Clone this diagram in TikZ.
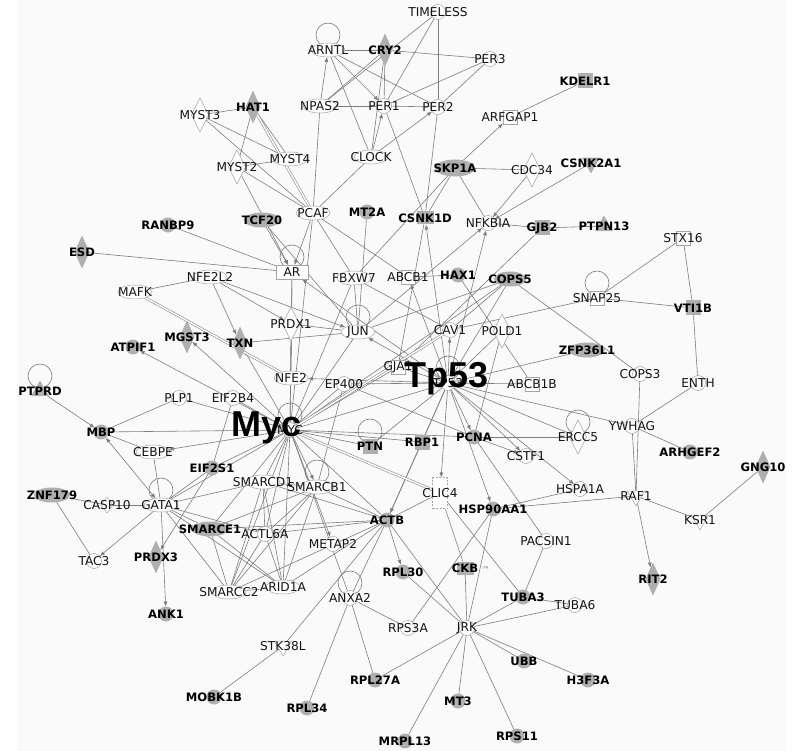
\documentclass[tikz,border=0pt]{standalone}
\usepackage{fontspec}
\setmainfont{DejaVu Sans}
\newfontfamily\bigfont{Liberation Sans}
\usetikzlibrary{shapes.geometric,arrows.meta}
\pgfdeclarelayer{back}
\pgfdeclarelayer{bg}
\pgfsetlayers{back,bg,main}
\definecolor{shade}{RGB}{175,175,175}
\definecolor{bord}{RGB}{165,165,165}
\definecolor{edgec}{RGB}{125,125,125}
\definecolor{panel}{RGB}{250,250,250}
\definecolor{txt}{RGB}{20,20,20}
\tikzset{
  base/.style={inner sep=0pt, outer sep=0pt},
  gf/.style={base, fill=shade, draw=none},
  wf/.style={base, fill=white, draw=bord, line width=0.5pt},
  gcirc/.style={gf, circle, minimum size=15pt},
  wcirc/.style={wf, circle, minimum size=15pt},
  gell/.style={gf, ellipse, minimum width=36pt, minimum height=15pt},
  well/.style={wf, ellipse, minimum width=34pt, minimum height=14pt},
  gdia/.style={gf, diamond, minimum width=15pt, minimum height=33pt},
  wdia/.style={wf, diamond, minimum width=17pt, minimum height=34pt},
  wdiasm/.style={wf, diamond, minimum width=12pt, minimum height=16pt},
  gsq/.style={gf, rectangle, minimum size=15pt},
  wsq/.style={wf, rectangle, minimum size=14pt},
  wrect/.style={wf, rectangle, minimum width=32pt, minimum height=14pt},
  wdash/.style={wf, rectangle, dash pattern=on 2pt off 1.5pt, minimum width=15pt, minimum height=31pt},
  gtriup/.style={gf, regular polygon, regular polygon sides=3, minimum size=21pt},
  gtridn/.style={gf, regular polygon, regular polygon sides=3, minimum size=21pt, shape border rotate=180},
  wtridn/.style={wf, regular polygon, regular polygon sides=3, minimum size=20pt, shape border rotate=180},
  gtrap/.style={gf, rectangle, minimum width=17pt, minimum height=13pt},
  lab/.style={font=\fontsize{12.2}{12}\selectfont, text=txt, inner sep=0pt},
  blab/.style={font=\fontsize{11.6}{12}\selectfont\bfseries, text=black, inner sep=0pt},
  ed/.style={draw=edgec, line width=0.6pt},
  ar/.style={ed, -{Latex[length=5pt,width=4pt]}},
  biar/.style={ed, {Latex[length=5pt,width=4pt]}-{Latex[length=5pt,width=4pt]}},
  dbl/.style={draw=edgec, double=panel, double distance=1.6pt, line width=0.5pt},
  biglab/.style={font=\bigfont\fontsize{36}{36}\selectfont\bfseries, text=black, inner sep=0pt, anchor=base},
}
\newcommand{\mkG}[4]{\node[#1,label={[blab]center:#4}] (#2) at (#3) {};}
\newcommand{\mkW}[4]{\node[#1,label={[lab]center:#4}] (#2) at (#3) {};}
\newcommand{\mkLoop}[1]{\draw[ed] ([yshift=15pt]#1.center) circle[radius=12pt];}
\begin{document}
\begin{tikzpicture}[x=1pt,y=-1pt]
\useasboundingbox (0,0) rectangle (793,751);
\begin{pgfonlayer}{back}
\fill[white] (0,0) rectangle (793,751);
\fill[panel] (17,0) rectangle (786,751);
\end{pgfonlayer}
% ---------- nodes ----------
\mkW{wcirc}{TIMELESS}{438,12}{TIMELESS}
\mkW{well}{ARNTL}{328,50}{ARNTL}
\mkG{gdia}{CRY2}{385,50}{CRY2}
\mkW{wcirc}{PER3}{490,59}{PER3}
\mkW{well}{NPAS2}{320,106}{NPAS2}
\mkW{wcirc}{PER1}{384,106}{PER1}
\mkW{wcirc}{PER2}{438,107}{PER2}
\mkW{wdia}{MYST3}{200,115}{MYST3}
\mkG{gdia}{HAT1}{253,107}{HAT1}
\mkW{well}{MYST4}{290,159}{MYST4}
\mkW{wdia}{MYST2}{237,167}{MYST2}
\mkW{well}{CLOCK}{371,157}{CLOCK}
\mkG{gsq}{KDELR1}{585,81}{KDELR1}
\mkW{wsq}{ARFGAP1}{510,117}{ARFGAP1}
\mkG{gell,minimum width=40pt,minimum height=17pt}{SKP1A}{455,168}{SKP1A}
\mkW{wdia}{CDC34}{532,170}{CDC34}
\mkG{gtridn}{CSNK2A1}{591,163}{CSNK2A1}
\mkW{well}{PCAF}{313,213}{PCAF}
\mkG{gcirc}{MT2A}{367,212}{MT2A}
\mkG{gell}{TCF20}{262,220}{TCF20}
\mkG{gcirc}{RANBP9}{168,225}{RANBP9}
\mkG{gtrap}{CSNK1D}{425,218}{CSNK1D}
\mkW{wcirc}{NFKBIA}{488,223}{NFKBIA}
\mkG{gsq}{GJB2}{542,228}{GJB2}
\mkG{gtriup}{PTPN13}{604,226}{PTPN13}
\mkW{wsq}{STX16}{683,238}{STX16}
\mkG{gdia}{ESD}{82,252}{ESD}
\mkW{well}{NFE2L2}{210,277}{NFE2L2}
\mkW{wrect}{AR}{292,272}{AR}
\mkW{well}{FBXW7}{354,278}{FBXW7}
\mkW{wsq}{ABCB1}{408,277}{ABCB1}
\mkG{gcirc}{HAX1}{458,275}{HAX1}
\mkG{gell,minimum width=32pt}{COPS5}{510,279}{COPS5}
\mkW{wsq}{SNAP25}{597,298}{SNAP25}
\mkG{gsq}{VTI1B}{693,308}{VTI1B}
\mkW{well}{MAFK}{135,292}{MAFK}
\mkW{wdia}{PRDX1}{291,324}{PRDX1}
\mkW{well}{JUN}{358,332}{JUN}
\mkW{wcirc}{CAV1}{450,330}{CAV1}
\mkW{wdia}{POLD1}{502,331}{POLD1}
\mkG{gdia}{MGST3}{187,337}{MGST3}
\mkG{gdia}{TXN}{240,343}{TXN}
\mkG{gcirc}{ATPIF1}{133,347}{ATPIF1}
\mkG{gell}{ZFP36L1}{587,350}{ZFP36L1}
\mkW{well}{NFE2}{291,378}{NFE2}
\mkW{wcirc}{EP400}{344,384}{EP400}
\mkW{wsq}{GJA1}{398,367}{GJA1}
\mkW{wcirc}{TP53}{448,383}{TP53}
\mkW{wsq}{ABCB1B}{532,384}{ABCB1B}
\mkW{wcirc}{COPS3}{640,374}{COPS3}
\mkW{wcirc}{ENTH}{698,383}{ENTH}
\mkG{gtriup}{PTPRD}{40,391}{PTPRD}
\mkW{wcirc}{PLP1}{179,398}{PLP1}
\mkW{wcirc}{EIF2B4}{233,398}{EIF2B4}
\mkG{gcirc}{MBP}{101,432}{MBP}
\mkW{wcirc}{MYC}{290,430}{MYC}
\mkW{well}{CEBPE}{153,452}{CEBPE}
\mkG{gsq}{PTN}{370,446}{PTN}
\mkG{gsq}{RBP1}{422,442}{RBP1}
\mkG{gcirc}{PCNA}{474,437}{PCNA}
\mkW{wdia}{ERCC5}{578,437}{ERCC5}
\mkW{wcirc}{CSTF1}{526,456}{CSTF1}
\mkW{wcirc}{YWHAG}{632,426}{YWHAG}
\mkG{gcirc}{ARHGEF2}{690,452}{ARHGEF2}
\mkG{gdia}{GNG10}{763,467}{GNG10}
\mkG{gcirc}{EIF2S1}{212,468}{EIF2S1}
\mkW{well}{SMARCD1}{263,482}{SMARCD1}
\mkW{well}{SMARCB1}{317,487}{SMARCB1}
\mkG{gell}{ZNF179}{52,495}{ZNF179}
\mkW{wdiasm}{CASP10}{107,505}{CASP10}
\mkW{well}{GATA1}{161,505}{GATA1}
\mkW{wdash}{CLIC4}{440,493}{CLIC4}
\mkW{wcirc}{HSPA1A}{580,489}{HSPA1A}
\mkG{gcirc}{ACTB}{387,520}{ACTB}
\mkG{gcirc}{HSP90AA1}{493,509}{HSP90AA1}
\mkW{wtridn}{RAF1}{636,496}{RAF1}
\mkW{wtridn}{KSR1}{700,520}{KSR1}
\mkG{gell}{SMARCE1}{210,529}{SMARCE1}
\mkW{wcirc}{ACTL6A}{265,534}{ACTL6A}
\mkW{wcirc}{METAP2}{333,544}{METAP2}
\mkW{wcirc}{PACSIN1}{546,541}{PACSIN1}
\mkW{wcirc}{TAC3}{94,561}{TAC3}
\mkG{gdia}{PRDX3}{156,557}{PRDX3}
\mkW{well}{SMARCC2}{229,592}{SMARCC2}
\mkW{well}{ARID1A}{283,587}{ARID1A}
\mkW{wcirc}{ANXA2}{350,598}{ANXA2}
\mkG{gcirc}{RPL30}{403,572}{RPL30}
\mkG{gtrap}{CKB}{465,568}{CKB}
\mkG{gcirc}{TUBA3}{523,597}{TUBA3}
\mkW{wcirc}{TUBA6}{575,605}{TUBA6}
\mkG{gdia}{RIT2}{653,579}{RIT2}
\mkW{wcirc}{RPS3A}{408,628}{RPS3A}
\mkW{wcirc}{JRK}{467,628}{JRK}
\mkG{gcirc}{ANK1}{166,614}{ANK1}
\mkW{wtridn}{STK38L}{283,646}{STK38L}
\mkG{gcirc}{UBB}{524,661}{UBB}
\mkG{gcirc}{H3F3A}{588,680}{H3F3A}
\mkG{gcirc}{RPL27A}{375,680}{RPL27A}
\mkG{gcirc}{MOBK1B}{214,697}{MOBK1B}
\mkG{gcirc}{RPL34}{307,708}{RPL34}
\mkG{gcirc}{MT3}{458,701}{MT3}
\mkG{gcirc}{MRPL13}{405,741}{MRPL13}
\mkG{gcirc}{RPS11}{517,736}{RPS11}
\node[font=\fontsize{4}{4}\selectfont, text=gray, inner sep=0pt] (PRtag) at (486,568) {PR};
% ---------- edges ----------
\begin{pgfonlayer}{bg}
\foreach \n in {ARNTL,AR,JUN,TP53,MYC,SNAP25,PTN,ERCC5,GATA1,SMARCB1,ANXA2,PTPRD} {\mkLoop{\n}}
\foreach \a/\b in {ARNTL/CRY2, CRY2/PER3, NPAS2/PER1, NPAS2/CRY2, ARNTL/PER2, ARNTL/CLOCK,
  CRY2/PER1, CRY2/CLOCK, PER1/PER2, TIMELESS/PER2, TIMELESS/PER1, TIMELESS/NPAS2,
  PER3/PER1, PER3/PER2, PER2/CSNK1D, PER1/CSNK1D,
  MYST3/HAT1, MYST3/MYST4, MYST3/PCAF, MYST2/MYST4, MYST2/PCAF, HAT1/MYST2, HAT1/MYST4,
  NPAS2/PCAF, CLOCK/PCAF, PCAF/FBXW7, PCAF/ABCB1, PCAF/MYC, TCF20/JUN, RANBP9/AR, ESD/AR,
  MT2A/JUN, SKP1A/FBXW7, SKP1A/CSNK1D, SKP1A/NFKBIA, SKP1A/CDC34, ARFGAP1/KDELR1,
  NFKBIA/GJB2, GJB2/PTPN13, GJB2/GJA1, CSNK1D/GJA1, ABCB1/HAX1, HAX1/ABCB1B,
  COPS5/CAV1, COPS5/MYC, COPS5/JUN, COPS5/COPS3, COPS5/TP53, CAV1/SNAP25, CAV1/FBXW7,
  POLD1/PCNA, POLD1/TP53, ZFP36L1/TP53, ABCB1B/TP53, TP53/YWHAG, TP53/ERCC5, TP53/RBP1,
  TP53/ACTB, TP53/PTN, TP53/EP400, TP53/GJA1, TP53/MYC,
  NFE2L2/MAFK, TXN/JUN, PRDX1/JUN, AR/NFE2, AR/MYC, PRDX1/MYC, JUN/MYC, FBXW7/JUN, FBXW7/MYC,
  PLP1/MBP, EIF2B4/MYC, EIF2B4/EIF2S1, MBP/MYC, CEBPE/MBP, CEBPE/GATA1,
  ZNF179/CASP10, ZNF179/TAC3, CASP10/GATA1, GATA1/EIF2S1, GATA1/MYC, GATA1/SMARCD1,
  GATA1/SMARCE1, GATA1/SMARCC2, GATA1/ARID1A, GATA1/ACTL6A, EIF2S1/MYC,
  MYC/SMARCD1, MYC/SMARCE1, MYC/ACTL6A, MYC/SMARCC2, MYC/ARID1A, MYC/ACTB,
  MYC/PTN, MYC/RBP1, MYC/PCNA, MYC/EP400, MYC/GJA1, MYC/ANXA2,
  SMARCD1/SMARCB1, SMARCD1/SMARCC2, SMARCD1/ARID1A, SMARCD1/ACTL6A, SMARCD1/ACTB,
  SMARCB1/SMARCC2, SMARCB1/ARID1A, SMARCB1/SMARCE1, SMARCB1/ACTL6A, SMARCB1/ACTB,
  SMARCE1/ACTB, SMARCE1/SMARCC2, SMARCE1/ARID1A, ACTL6A/SMARCC2, ACTL6A/ARID1A, ACTL6A/ACTB,
  SMARCC2/ARID1A, SMARCC2/ACTB, ARID1A/ACTB, EP400/SMARCB1, EP400/PCNA,
  ANXA2/ACTB, ANXA2/RPL34, ANXA2/RPL27A, ANXA2/RPS3A, STK38L/ACTB, STK38L/MOBK1B,
  ACTB/JRK, ACTB/CLIC4, RPL30/JRK, RPS3A/HSP90AA1, JRK/HSP90AA1, JRK/CKB, CLIC4/CKB,
  CLIC4/TUBA3, JRK/TUBA3, JRK/TUBA6, JRK/UBB, JRK/H3F3A, JRK/MT3, JRK/RPS11, JRK/MRPL13,
  JRK/RPL27A, HSP90AA1/HSPA1A, HSP90AA1/RAF1, PCNA/PACSIN1, PACSIN1/TUBA3, TUBA3/TUBA6,
  YWHAG/RAF1, COPS3/RAF1, RAF1/KSR1, KSR1/GNG10, YWHAG/ENTH, YWHAG/ARHGEF2,
  ENTH/VTI1B, VTI1B/STX16, VTI1B/SNAP25, SNAP25/STX16, PCNA/ERCC5}
  {\draw[ed] (\a) -- (\b);}
\foreach \a/\b in {NPAS2/ARNTL, ARNTL/PER1, CLOCK/PER1, CLOCK/PER2, MYST2/AR, PCAF/AR, TCF20/AR,
  SKP1A/ARFGAP1, CDC34/NFKBIA, CSNK2A1/NFKBIA, JUN/NFKBIA, TP53/NFKBIA, TP53/CSNK1D,
  TP53/ABCB1, TP53/CAV1, TP53/PCNA, TP53/CSTF1, TP53/HSPA1A, TP53/CLIC4, TP53/HSP90AA1,
  TP53/JUN, TP53/NFE2, TP53/AR, NFE2L2/TXN, NFE2L2/PRDX1, NFE2L2/JUN, MYC/TXN, MYC/MGST3,
  MYC/ATPIF1, PTPRD/MBP, PLP1/MYC, MYC/CEBPE, GATA1/TAC3, GATA1/ANK1, EIF2S1/PRDX3,
  MYC/SMARCB1, MYC/METAP2, ACTB/RPL30, RBP1/ACTB, PCNA/CSTF1, RAF1/RIT2}
  {\draw[ar] (\a) -- (\b);}
\draw[biar] (GATA1) -- (MBP);
\foreach \a/\b in {HAT1/PCAF, MAFK/NFE2, CAV1/MYC, MYC/CLIC4}
  {\draw[dbl] (\a) -- (\b);}
\end{pgfonlayer}
% ---------- big labels ----------
\node[biglab] (MycLbl) at (267,436) {Myc};
\node[biglab] (Tp53Lbl) at (446.5,388) {Tp53};
\end{tikzpicture}
\end{document}
